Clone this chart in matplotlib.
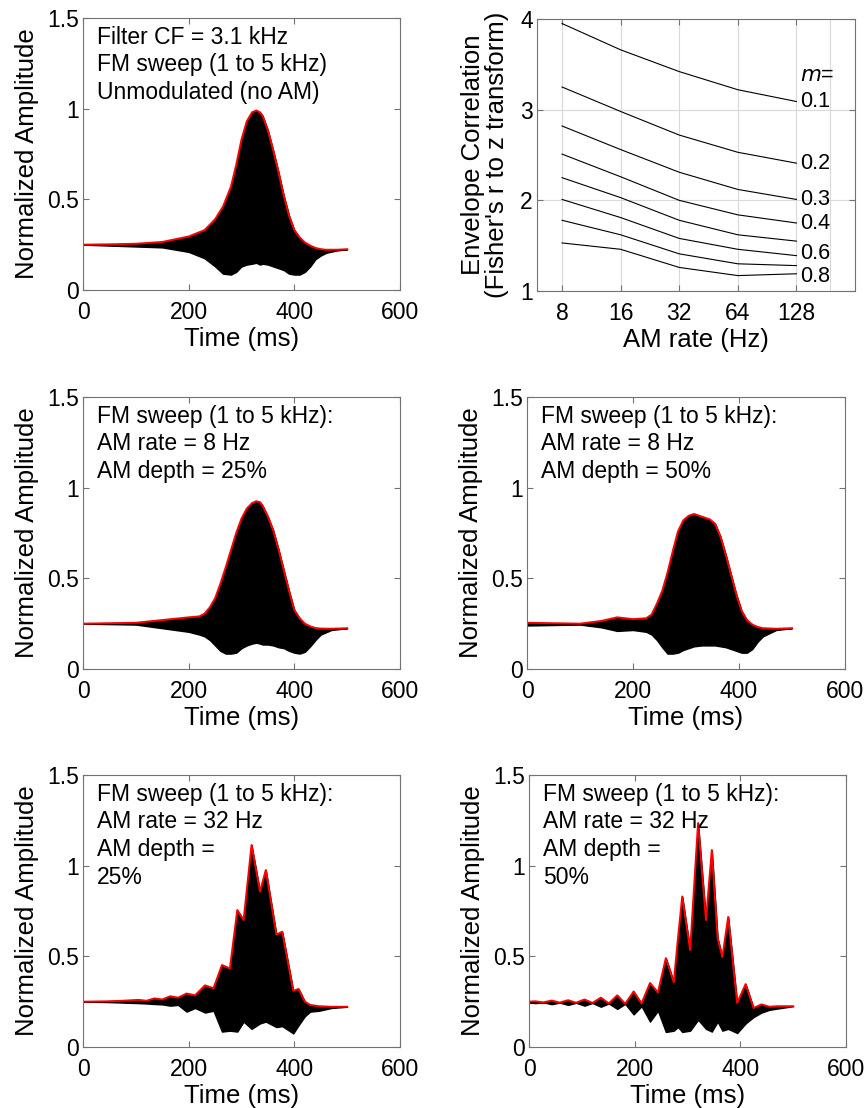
import matplotlib
matplotlib.use("Agg")
import matplotlib.pyplot as plt

plt.rcParams['font.family'] = ['Liberation Sans', 'DejaVu Sans']
plt.rcParams['font.size'] = 16.5

# ---- waveform envelopes (time in ms, amplitude) ----
# unmodulated
t_a = [0, 50, 100, 150, 200, 230, 250, 265, 280, 290, 300, 310, 320, 328, 335, 340, 350, 360, 370, 380, 390, 400, 410, 420, 430, 440, 450, 460, 480, 500]
up_a = [0.25, 0.252, 0.255, 0.265, 0.295, 0.33, 0.39, 0.46, 0.57, 0.69, 0.83, 0.93, 0.98, 0.99, 0.98, 0.96, 0.88, 0.77, 0.65, 0.52, 0.41, 0.33, 0.29, 0.262, 0.245, 0.232, 0.225, 0.222, 0.222, 0.225]
lo_a = [0.25, 0.245, 0.24, 0.235, 0.21, 0.175, 0.13, 0.09, 0.085, 0.1, 0.13, 0.14, 0.145, 0.15, 0.14, 0.145, 0.14, 0.13, 0.12, 0.11, 0.09, 0.085, 0.085, 0.1, 0.13, 0.17, 0.19, 0.205, 0.218, 0.225]

# 8 Hz, 25 %
t_b = [0, 100, 150, 200, 220, 230, 240, 250, 260, 270, 280, 290, 300, 310, 320, 328, 335, 340, 350, 360, 370, 380, 390, 400, 410, 420, 430, 440, 450, 470, 500]
up_b = [0.25, 0.255, 0.27, 0.285, 0.29, 0.305, 0.34, 0.39, 0.47, 0.56, 0.655, 0.75, 0.83, 0.885, 0.915, 0.925, 0.92, 0.9, 0.84, 0.765, 0.66, 0.545, 0.43, 0.325, 0.28, 0.25, 0.235, 0.226, 0.223, 0.222, 0.225]
lo_b = [0.25, 0.245, 0.225, 0.205, 0.19, 0.18, 0.16, 0.13, 0.1, 0.085, 0.085, 0.09, 0.115, 0.13, 0.14, 0.145, 0.14, 0.135, 0.135, 0.13, 0.12, 0.115, 0.1, 0.09, 0.085, 0.095, 0.125, 0.16, 0.19, 0.215, 0.225]

# 8 Hz, 50 %
t_c = [0, 100, 140, 170, 200, 225, 235, 245, 255, 265, 275, 285, 295, 305, 315, 330, 345, 355, 365, 375, 385, 395, 405, 415, 425, 435, 445, 470, 500]
up_c = [0.255, 0.25, 0.265, 0.285, 0.275, 0.28, 0.3, 0.36, 0.43, 0.53, 0.65, 0.76, 0.82, 0.845, 0.855, 0.84, 0.825, 0.8, 0.73, 0.63, 0.52, 0.41, 0.32, 0.27, 0.245, 0.232, 0.225, 0.222, 0.225]
lo_c = [0.24, 0.245, 0.23, 0.21, 0.215, 0.205, 0.19, 0.16, 0.12, 0.085, 0.085, 0.09, 0.105, 0.115, 0.125, 0.13, 0.13, 0.13, 0.125, 0.12, 0.11, 0.1, 0.09, 0.09, 0.11, 0.15, 0.18, 0.215, 0.225]

# 32 Hz, 25 %
t_d = [0, 45, 75, 105, 120, 135, 150, 165, 180, 196, 212, 231, 247, 263, 278, 292, 304, 319, 335, 346, 366, 377, 398, 408, 420, 430, 447, 470, 500]
up_d = [0.25, 0.252, 0.255, 0.26, 0.255, 0.268, 0.262, 0.28, 0.272, 0.295, 0.285, 0.34, 0.324, 0.452, 0.433, 0.755, 0.70, 1.114, 0.857, 0.976, 0.62, 0.636, 0.31, 0.32, 0.25, 0.232, 0.225, 0.222, 0.222]
lo_d = [0.25, 0.248, 0.245, 0.242, 0.24, 0.237, 0.235, 0.228, 0.232, 0.195, 0.215, 0.19, 0.2, 0.085, 0.09, 0.085, 0.14, 0.1, 0.13, 0.14, 0.11, 0.115, 0.075, 0.12, 0.17, 0.195, 0.2, 0.215, 0.222]

# 32 Hz, 50 %
t_e = [0, 12, 27, 43, 58, 74, 89, 105, 120, 136, 151, 167, 182, 198, 213, 229, 244, 259, 274, 282, 290, 305, 320, 335, 346, 357, 366, 377, 394, 410, 425, 440, 455, 470, 500]
up_e = [0.25, 0.252, 0.246, 0.256, 0.245, 0.258, 0.244, 0.262, 0.243, 0.272, 0.24, 0.285, 0.238, 0.306, 0.24, 0.353, 0.30, 0.49, 0.358, 0.6, 0.83, 0.535, 1.235, 0.70, 1.086, 0.6, 0.496, 0.717, 0.243, 0.347, 0.215, 0.235, 0.222, 0.225, 0.225]
lo_e = [0.245, 0.242, 0.246, 0.236, 0.245, 0.232, 0.244, 0.228, 0.243, 0.222, 0.24, 0.21, 0.238, 0.18, 0.225, 0.14, 0.2, 0.083, 0.09, 0.11, 0.083, 0.09, 0.15, 0.1, 0.085, 0.14, 0.09, 0.1, 0.077, 0.13, 0.165, 0.19, 0.205, 0.212, 0.225]

texts_a = ["Filter CF = 3.1 kHz", "FM sweep (1 to 5 kHz)", "Unmodulated (no AM)"]
texts_b = ["FM sweep (1 to 5 kHz):", "AM rate = 8 Hz", "AM depth = 25%"]
texts_c = ["FM sweep (1 to 5 kHz):", "AM rate = 8 Hz", "AM depth = 50%"]
texts_d = ["FM sweep (1 to 5 kHz):", "AM rate = 32 Hz", "AM depth =", "25%"]
texts_e = ["FM sweep (1 to 5 kHz):", "AM rate = 32 Hz", "AM depth =", "50%"]

# ---- envelope correlation panel ----
am_rates = [8, 16, 32, 64, 128]
z_m01 = [3.95, 3.66, 3.42, 3.22, 3.09]
z_m02 = [3.25, 2.98, 2.72, 2.53, 2.41]
z_m03 = [2.82, 2.56, 2.31, 2.12, 2.01]
z_m04 = [2.51, 2.26, 2.00, 1.84, 1.75]
z_m05 = [2.25, 2.03, 1.78, 1.62, 1.55]
z_m06 = [2.01, 1.81, 1.58, 1.46, 1.39]
z_m07 = [1.78, 1.62, 1.41, 1.30, 1.28]
z_m08 = [1.53, 1.46, 1.26, 1.17, 1.19]
m_labels = ["0.1", "0.2", "0.3", "0.4", "", "0.6", "", "0.8"]
m_label_y = [3.09, 2.41, 2.01, 1.74, None, 1.41, None, 1.165]

W, H = 866, 1108
fig = plt.figure(figsize=(W / 100, H / 100), dpi=100)


def add_ax(left, top, right, bottom):
    return fig.add_axes([left / W, 1 - bottom / H, (right - left) / W, (bottom - top) / H])


def style(ax):
    for s in ax.spines.values():
        s.set_color('0.45')
        s.set_linewidth(0.8)
    ax.tick_params(direction='in', top=True, right=True, length=4, color='0.45',
                   labelsize=16.5)
    ax.tick_params(axis='x', pad=8)
    ax.tick_params(axis='y', pad=3)


def wave_panel(ax, t, up, lo, lines):
    ax.fill_between(t, lo, up, color='black', linewidth=1.0, edgecolor='black')
    ax.plot(t, up, color='red', lw=1.4, solid_joinstyle='round')
    ax.set_xlim(0, 600)
    ax.set_ylim(0, 1.5)
    ax.set_xticks([0, 200, 400, 600])
    ax.set_yticks([0, 0.5, 1, 1.5])
    ax.set_yticklabels(['0', '0.5', '1', '1.5'])
    ax.set_xlabel("Time (ms)", fontsize=18.5, labelpad=2)
    ax.set_ylabel("Normalized Amplitude", fontsize=18.5, labelpad=6)
    h = ax.get_position().height * H
    for i, s in enumerate(lines):
        ax.text(0.045, 1 - (19 + 27.8 * i) / h, s, transform=ax.transAxes,
                va='center', ha='left', fontsize=16.5)
    style(ax)


ax1 = add_ax(83, 18, 400, 290)
wave_panel(ax1, t_a, up_a, lo_a, texts_a)

ax3 = add_ax(83, 397, 400, 669)
wave_panel(ax3, t_b, up_b, lo_b, texts_b)

ax4 = add_ax(527, 397, 845, 669)
wave_panel(ax4, t_c, up_c, lo_c, texts_c)

ax5 = add_ax(83, 775, 400, 1047)
wave_panel(ax5, t_d, up_d, lo_d, texts_d)

ax6 = add_ax(529, 775, 846, 1047)
wave_panel(ax6, t_e, up_e, lo_e, texts_e)

# top-right panel
ax2 = add_ax(537, 19, 855, 291)
all_z = [z_m01, z_m02, z_m03, z_m04, z_m05, z_m06, z_m07, z_m08]
for z in all_z:
    ax2.plot(am_rates, z, color='black', lw=0.8)
ax2.set_xscale('log', base=2)
ax2.set_xlim(5.95, 256)
ax2.set_ylim(1, 4)
ax2.set_xticks(am_rates)
ax2.set_xticklabels([str(r) for r in am_rates])
ax2.set_xticks([190], minor=True)
ax2.set_xticklabels([''], minor=True)
ax2.set_yticks([1, 2, 3, 4])
ax2.grid(True, which='both', color='0.85', lw=0.8)
ax2.set_axisbelow(True)
for lab, y in zip(m_labels, m_label_y):
    if lab:
        ax2.text(133, y, lab, va='center', ha='left', fontsize=15.5)
ax2.text(133, 3.38, "$m$=", va='center', ha='left', fontsize=15.5)
ax2.set_xlabel("AM rate (Hz)", fontsize=18.5, labelpad=2)
ax2.set_ylabel("Envelope Correlation\n(Fisher's r to z transform)", fontsize=18.5,
               labelpad=8, linespacing=1.0)
style(ax2)
ax2.tick_params(which='minor', length=0)

fig.savefig("out.png", dpi=100)
